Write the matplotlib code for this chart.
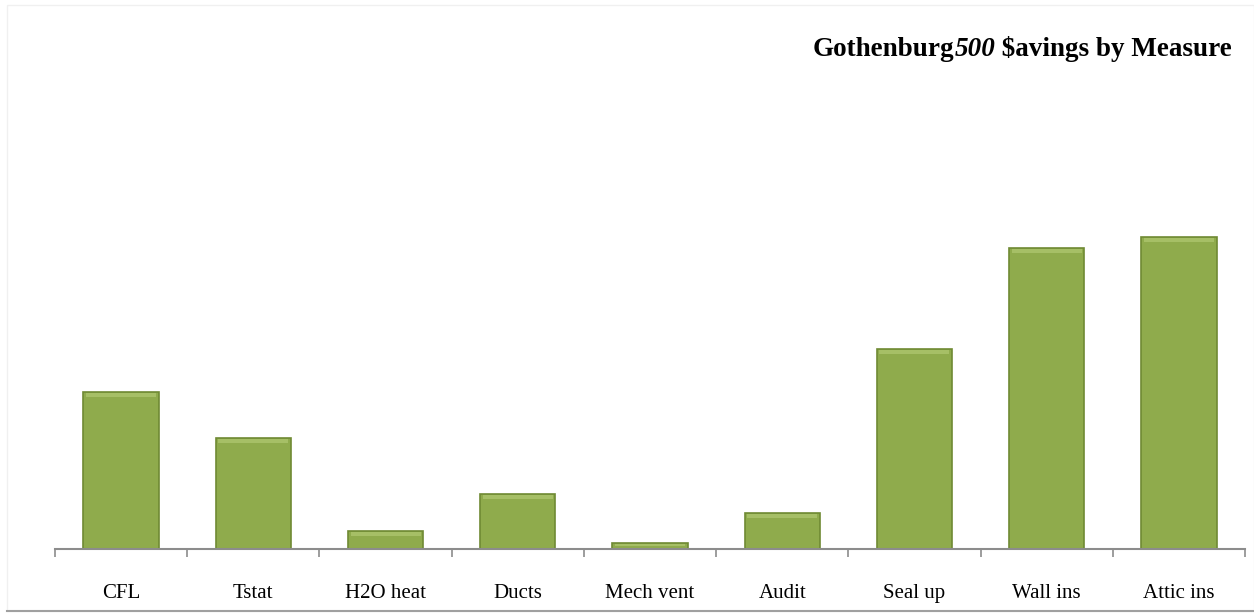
import matplotlib
matplotlib.use('Agg')
import matplotlib.pyplot as plt
from matplotlib.patches import Rectangle

# savings per measure (arbitrary units)
measures = ['CFL', 'Tstat', 'H2O heat', 'Ducts', 'Mech vent', 'Audit', 'Seal up', 'Wall ins', 'Attic ins']
savings = [157, 111, 18, 55, 6, 36, 200, 301, 312]

fig = plt.figure(figsize=(12.54, 6.16), dpi=100)
ax = fig.add_axes([55 / 1254, 67 / 616, 1190 / 1254, 400 / 616])

x = list(range(len(measures)))
ax.bar(x, savings, width=0.57, color='#8fab4c', edgecolor='#6f8a33', linewidth=1.2, zorder=2)
# lighter bevel strip along the top of each bar
ax.bar(x, [min(4, s * 0.3) for s in savings], bottom=[s - min(4, s * 0.3) - 1 for s in savings],
       width=0.53, color='#a6bf66', linewidth=0, zorder=3)

ax.set_xlim(-0.5, len(measures) - 0.5)
ax.set_ylim(0, 400)
ax.set_yticks([])
ax.set_xticks(x)
ax.set_xticklabels(measures, fontfamily='Liberation Serif', fontsize=15)
ax.tick_params(axis='x', which='major', length=0, pad=25)
ax.set_xticks([i - 0.5 for i in range(len(measures) + 1)], minor=True)
ax.tick_params(axis='x', which='minor', length=6, width=1.2, color='#8c8c8c', direction='out')
for s in ['top', 'right', 'left']:
    ax.spines[s].set_visible(False)
ax.spines['bottom'].set_color('#8c8c8c')
ax.spines['bottom'].set_linewidth(1.5)

# title with mixed styles, laid out right to left
fig.canvas.draw()
r = fig.canvas.get_renderer()
tx, ty = 1232 / 1254, 1 - 56 / 616
kw = dict(fontfamily='Liberation Serif', fontsize=19.5, fontweight='bold', ha='right', va='baseline',
          transform=fig.transFigure)
t3 = fig.text(tx, ty, ' $avings by Measure', **kw)
bb = t3.get_window_extent(r)
t2 = fig.text(bb.x0 / fig.bbox.width, ty, '500', fontstyle='italic', **kw)
bb = t2.get_window_extent(r)
fig.text(bb.x0 / fig.bbox.width, ty, 'Gothenburg', **kw)

# faint frame around the chart
fig.add_artist(Rectangle((7 / 1254, 5 / 616), 1247 / 1254, 606 / 616, transform=fig.transFigure,
                         fill=False, edgecolor='#f0f0f0', linewidth=1))
fig.add_artist(plt.Line2D([7 / 1254, 1], [5 / 616, 5 / 616], transform=fig.transFigure,
                          color='#a0a0a0', linewidth=1.5))

fig.savefig('out.png', dpi=100)
